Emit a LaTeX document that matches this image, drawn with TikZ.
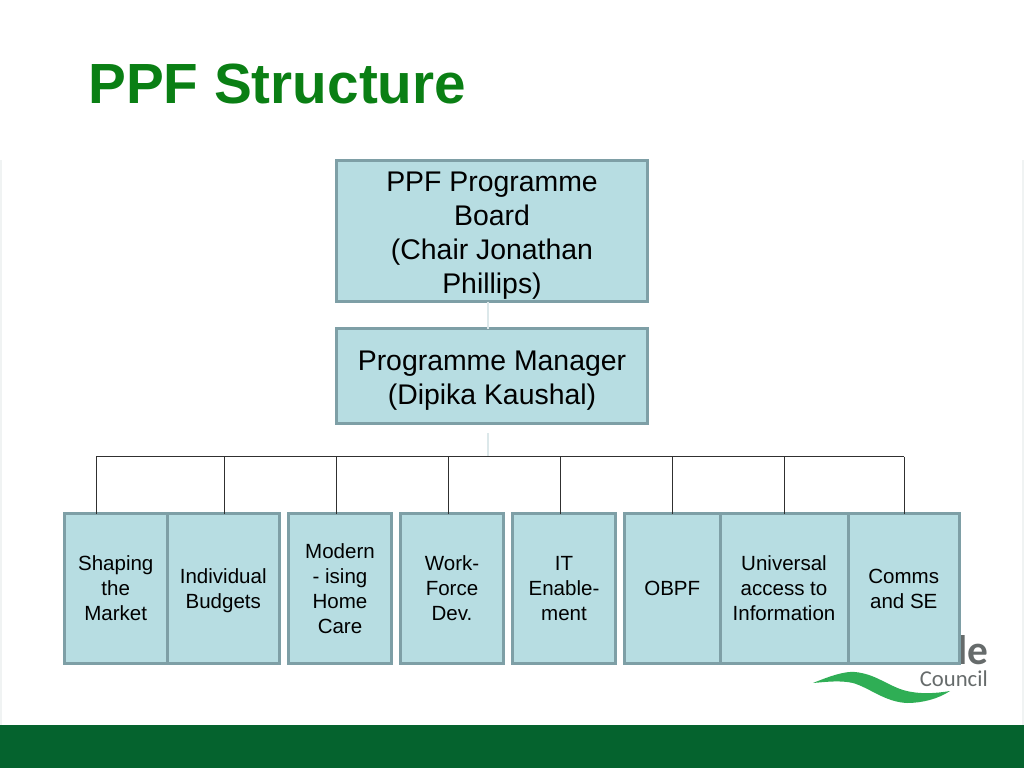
\documentclass[tikz,border=0pt]{standalone}
\usepackage{fontspec}
\setmainfont{Liberation Sans}
\newfontfamily\logofont{Carlito}
\definecolor{boxfill}{HTML}{B7DDE2}
\definecolor{boxedge}{HTML}{7E9FA6}
\definecolor{titlegreen}{HTML}{0A7F14}
\definecolor{bandgreen}{HTML}{05632E}
\definecolor{swooshgreen}{HTML}{2FAE55}
\definecolor{logogrey}{HTML}{666B6B}
\definecolor{faintline}{HTML}{DCE8EA}
\definecolor{faintedge}{HTML}{F0F3F3}
\definecolor{busline}{HTML}{303030}
\newcommand{\bigpad}{\rule{0pt}{21.6pt}}
\newcommand{\smallpad}{\rule{0pt}{14.2pt}}
\tikzset{
        bigbox/.style={draw=boxedge, fill=boxfill, line width=2.25pt, outer sep=0pt, inner sep=0pt,
                minimum width=233.25pt, align=center, text=black,
                font=\fontsize{21.3}{25.6}\selectfont},
        smallbox/.style={draw=boxedge, fill=boxfill, line width=2.25pt, outer sep=0pt, inner sep=0pt,
                minimum height=112.5pt, align=center, text=black,
                font=\fontsize{15.4}{18.7}\selectfont},
        busstyle/.style={draw=busline, line width=0.75pt},
        faintstyle/.style={draw=faintline, line width=0.9pt}
}

\begin{document}
\begin{tikzpicture}[x=0.75pt, y=-0.75pt]
        \useasboundingbox (0,0) rectangle (1024,768);
        \fill[faintedge] (0,160) rectangle (2,725);
        \fill[faintedge] (1022,160) rectangle (1024,725);
        \fill[bandgreen] (0,725) rectangle (1024,768);

        \node[anchor=base west, inner sep=0pt, text=titlegreen, font=\fontsize{42.5}{50}\selectfont\bfseries] (title) at (88,103) {PPF Structure};

        \node[anchor=base east, inner sep=0pt, text=logogrey, font=\fontsize{31}{34}\logofont\bfseries] (logole) at (989,664) {le};
        \node[anchor=base east, inner sep=0pt, text=logogrey, font=\fontsize{17}{19}\logofont] (logocouncil) at (988,686) {Council};
        \fill[swooshgreen] (813,683) .. controls (830,676) and (845,671) .. (855,672)
                .. controls (875,674) and (885,684) .. (903,690)
                .. controls (920,695) and (938,693) .. (950,691)
                .. controls (938,699) and (922,703) .. (907,703)
                .. controls (885,702) and (870,688) .. (853,683)
                .. controls (840,680) and (825,682) .. (813,683) -- cycle;

        \node[bigbox, minimum height=141pt*0.75] (board) at (492,231) {\bigpad PPF Programme\\Board\\(Chair Jonathan\\Phillips)};
        \node[bigbox, minimum height=95pt*0.75] (manager) at (492,376) {\bigpad Programme Manager\\(Dipika Kaushal)};

        \node[smallbox, minimum width=102.5pt*0.75] (shaping) at (115.75,588.5) {Shaping\\the\\Market};
        \node[smallbox, minimum width=112.5pt*0.75] (budgets) at (223.25,588.5) {\smallpad Individual\\Budgets};
        \node[smallbox, minimum width=103pt*0.75] (homecare) at (340,588.5) {Modern\\- ising\\Home\\Care};
        \node[smallbox, minimum width=103pt*0.75] (workforce) at (452,588.5) {Work-\\Force\\Dev.};
        \node[smallbox, minimum width=103pt*0.75] (enablement) at (564,588.5) {IT\\Enable-\\ment};
        \node[smallbox, minimum width=95.5pt*0.75] (obpf) at (672.25,588.5) {OBPF};
        \node[smallbox, minimum width=128pt*0.75] (access) at (784,588.5) {Universal\\access to\\Information};
        \node[smallbox, minimum width=111.5pt*0.75] (comms) at (903.75,588.5) {Comms\\and SE};

        \coordinate (gapa) at (488,433);
        \coordinate (busa) at (96,456.5);
        \coordinate (busb) at (224,456.5);
        \coordinate (busc) at (336,456.5);
        \coordinate (busd) at (448,456.5);
        \coordinate (buse) at (560,456.5);
        \coordinate (busf) at (672,456.5);
        \coordinate (busg) at (784,456.5);
        \coordinate (bush) at (904,456.5);

        \draw[faintstyle] (board.south -| gapa) -- (manager.north -| gapa);
        \draw[faintstyle] (gapa) -- (gapa |- busa);
        \draw[busstyle] (busa) -- (bush);
        \draw[busstyle] (busa) -- (shaping.north -| busa);
        \draw[busstyle] (busb) -- (budgets.north -| busb);
        \draw[busstyle] (busc) -- (homecare.north -| busc);
        \draw[busstyle] (busd) -- (workforce.north -| busd);
        \draw[busstyle] (buse) -- (enablement.north -| buse);
        \draw[busstyle] (busf) -- (obpf.north -| busf);
        \draw[busstyle] (busg) -- (access.north -| busg);
        \draw[busstyle] (bush) -- (comms.north -| bush);
\end{tikzpicture}
\end{document}
